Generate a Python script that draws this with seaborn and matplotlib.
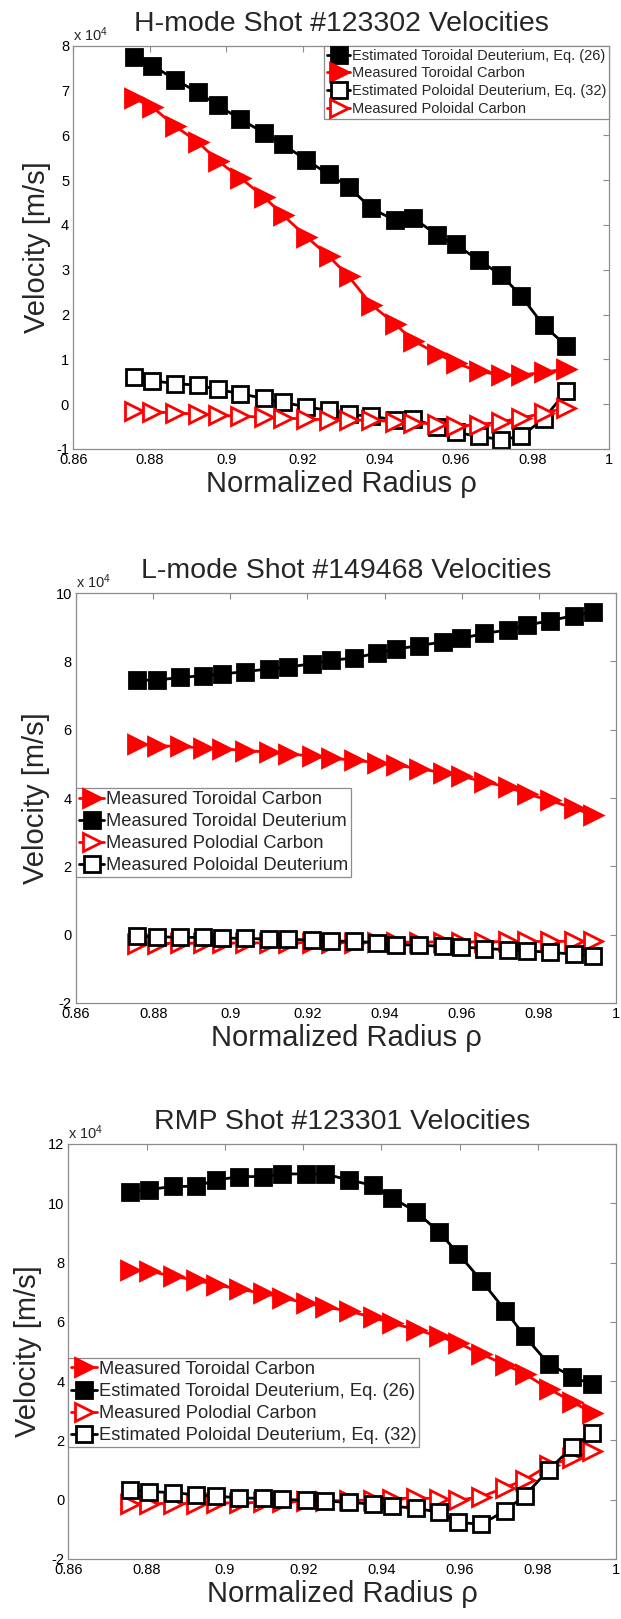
import matplotlib
matplotlib.use("Agg")
import matplotlib.pyplot as plt
import seaborn as sns

sns.set_style("white")
plt.rcParams["font.family"] = ["Liberation Sans", "DejaVu Sans"]
plt.rcParams["mathtext.fontset"] = "custom"
plt.rcParams["mathtext.rm"] = "Liberation Sans"
plt.rcParams["mathtext.it"] = "Liberation Sans:italic"

# ---------------- data (velocities in units of 1e4 m/s) ----------------
x_ticks = [0.86, 0.88, 0.90, 0.92, 0.94, 0.96, 0.98, 1.00]
x_ticklabels = ["0.86", "0.88", "0.9", "0.92", "0.94", "0.96", "0.98", "1"]

# Panel 1: H-mode shot #123302
h_rho = [0.8758, 0.8807, 0.8867, 0.8926, 0.8978, 0.9037, 0.9098, 0.9148, 0.9209, 0.9268, 0.9320,
         0.9379, 0.9440, 0.9488, 0.9550, 0.9599, 0.9660, 0.9719, 0.9770, 0.9829, 0.9889]
h_tor_D = [7.75, 7.56, 7.24, 6.96, 6.67, 6.36, 6.06, 5.80, 5.45, 5.13, 4.85,
           4.37, 4.11, 4.16, 3.78, 3.57, 3.21, 2.88, 2.42, 1.76, 1.30]
h_tor_C = [6.83, 6.63, 6.20, 5.85, 5.43, 5.05, 4.63, 4.22, 3.74, 3.30, 2.85,
           2.22, 1.80, 1.42, 1.13, 0.92, 0.73, 0.65, 0.65, 0.71, 0.79]
h_pol_D = [0.60, 0.52, 0.46, 0.42, 0.33, 0.23, 0.13, 0.04, -0.06, -0.14, -0.23,
           -0.27, -0.35, -0.33, -0.50, -0.63, -0.72, -0.79, -0.72, -0.33, 0.29]
h_pol_C = [-0.16, -0.17, -0.20, -0.22, -0.25, -0.27, -0.29, -0.31, -0.33, -0.35, -0.35,
           -0.36, -0.39, -0.41, -0.44, -0.49, -0.46, -0.39, -0.31, -0.20, -0.08]
h_yticks = [-1, 0, 1, 2, 3, 4, 5, 6, 7, 8]

# Panel 2: L-mode shot #149468
l_rho = [0.8759, 0.8809, 0.8870, 0.8930, 0.8979, 0.9039, 0.9100, 0.9149, 0.9211, 0.9260, 0.9321,
         0.9380, 0.9430, 0.9489, 0.9551, 0.9599, 0.9659, 0.9720, 0.9768, 0.9829, 0.9890, 0.9941]
l_tor_C = [5.58, 5.53, 5.51, 5.46, 5.44, 5.39, 5.34, 5.29, 5.23, 5.16, 5.11,
           5.03, 4.96, 4.86, 4.74, 4.64, 4.47, 4.32, 4.12, 3.93, 3.70, 3.50]
l_tor_D = [7.45, 7.45, 7.53, 7.58, 7.63, 7.70, 7.78, 7.83, 7.93, 8.03, 8.10,
           8.24, 8.36, 8.46, 8.57, 8.67, 8.82, 8.92, 9.06, 9.19, 9.34, 9.45]
l_pol_C = [-0.26, -0.26, -0.25, -0.25, -0.25, -0.24, -0.24, -0.24, -0.23, -0.23, -0.23,
           -0.22, -0.22, -0.22, -0.21, -0.21, -0.21, -0.20, -0.20, -0.20, -0.19, -0.19]
l_pol_D = [-0.05, -0.06, -0.08, -0.08, -0.10, -0.11, -0.13, -0.13, -0.16, -0.18, -0.20,
           -0.23, -0.29, -0.31, -0.34, -0.36, -0.41, -0.44, -0.47, -0.52, -0.57, -0.62]
l_yticks = [-2, 0, 2, 4, 6, 8, 10]

# Panel 3: RMP shot #123301
r_rho = [0.8758, 0.8806, 0.8867, 0.8926, 0.8977, 0.9037, 0.9098, 0.9146, 0.9207, 0.9256, 0.9318,
         0.9378, 0.9428, 0.9488, 0.9547, 0.9597, 0.9656, 0.9717, 0.9767, 0.9828, 0.9888, 0.9938]
r_tor_C = [7.74, 7.71, 7.54, 7.40, 7.25, 7.10, 6.96, 6.82, 6.63, 6.50, 6.36,
           6.15, 5.95, 5.74, 5.51, 5.28, 4.91, 4.55, 4.24, 3.74, 3.31, 2.93]
r_tor_D = [10.38, 10.46, 10.57, 10.57, 10.78, 10.90, 10.90, 10.99, 10.99, 10.99, 10.78,
           10.61, 10.18, 9.72, 9.04, 8.29, 7.39, 6.38, 5.51, 4.58, 4.15, 3.89]
r_pol_C = [-0.13, -0.13, -0.13, -0.13, -0.11, -0.11, -0.09, -0.09, -0.05, -0.05, -0.02,
           -0.02, 0.03, 0.06, 0.03, -0.02, 0.10, 0.41, 0.67, 1.16, 1.40, 1.63]
r_pol_D = [0.33, 0.27, 0.24, 0.16, 0.12, 0.06, 0.04, 0.01, -0.02, -0.05, -0.09,
           -0.15, -0.23, -0.28, -0.43, -0.77, -0.83, -0.37, 0.14, 1.01, 1.77, 2.24]
r_yticks = [-2, 0, 2, 4, 6, 8, 10, 12]

# ---------------- styling ----------------
GREY = "#8c8c8c"
RED = "#ff0000"
BLACK = "#000000"
STY = {
    "tor_D": dict(color=BLACK, marker="s", ms=11, filled=True),
    "tor_C": dict(color=RED, marker=">", ms=12.5, filled=True),
    "pol_D": dict(color=BLACK, marker="s", ms=11, filled=False),
    "pol_C": dict(color=RED, marker=">", ms=12.5, filled=False),
}

fig = plt.figure(figsize=(6.21, 16.19), dpi=100)


def draw_panel(rect, title, rho, series, yticks, legend_kw):
    ax = fig.add_axes(rect)
    for key, label, vals in series:
        s = STY[key]
        sns.lineplot(x=rho, y=vals, ax=ax, color=s["color"], linewidth=2,
                     marker=s["marker"], markersize=s["ms"], markeredgewidth=2,
                     markeredgecolor=s["color"],
                     markerfacecolor=s["color"] if s["filled"] else "white",
                     label=label, sort=False, estimator=None)
    ax.set_xlim(0.86, 1.0)
    ax.set_ylim(yticks[0], yticks[-1])
    ax.set_xticks(x_ticks)
    ax.set_xticklabels(x_ticklabels)
    ax.set_yticks(yticks)
    ax.set_yticklabels([str(v) for v in yticks])
    ax.tick_params(direction="in", length=4.5, width=0.8, color=GREY,
                   top=True, right=True, labelsize=10.5, pad=3, labelcolor="black")
    for sp in ax.spines.values():
        sp.set_color(GREY)
        sp.set_linewidth(0.9)
    ax.set_title(title, fontsize=20.5, pad=11)
    ax.set_xlabel("Normalized Radius \u03c1", fontsize=21, labelpad=2)
    ax.set_ylabel("Velocity [m/s]", fontsize=21, labelpad=4)
    ax.text(0.0, 1.004, r"x 10$^{4}$", transform=ax.transAxes, ha="left", va="bottom",
            fontsize=10.5)
    leg = ax.legend(frameon=True, fancybox=False, framealpha=1, edgecolor=GREY,
                    numpoints=1, handletextpad=0.1, borderaxespad=0, **legend_kw)
    leg.get_frame().set_linewidth(0.9)
    return ax


draw_panel([0.118, 0.7227, 0.8626, 0.2490], "H-mode Shot #123302 Velocities", h_rho,
           [("tor_D", "Estimated Toroidal Deuterium, Eq. (26)", h_tor_D),
            ("tor_C", "Measured Toroidal Carbon", h_tor_C),
            ("pol_D", "Estimated Poloidal Deuterium, Eq. (32)", h_pol_D),
            ("pol_C", "Measured Poloidal Carbon", h_pol_C)],
           h_yticks,
           dict(loc="upper right", bbox_to_anchor=(1.0, 1.0), fontsize=10.5,
                labelspacing=0.25, borderpad=0.2, handlelength=1.6))

draw_panel([0.1224, 0.3805, 0.8696, 0.2532], "L-mode Shot #149468 Velocities", l_rho,
           [("tor_C", "Measured Toroidal Carbon", l_tor_C),
            ("tor_D", "Measured Toroidal Deuterium", l_tor_D),
            ("pol_C", "Measured Polodial Carbon", l_pol_C),
            ("pol_D", "Measured Poloidal Deuterium", l_pol_D)],
           l_yticks,
           dict(loc="upper left", bbox_to_anchor=(0.0, 0.524), fontsize=13.2,
                labelspacing=0.28, borderpad=0.15, handlelength=1.4))

draw_panel([0.1103, 0.0371, 0.8816, 0.2563], "RMP Shot #123301 Velocities", r_rho,
           [("tor_C", "Measured Toroidal Carbon", r_tor_C),
            ("tor_D", "Estimated Toroidal Deuterium, Eq. (26)", r_tor_D),
            ("pol_C", "Measured Polodial Carbon", r_pol_C),
            ("pol_D", "Estimated Poloidal Deuterium, Eq. (32)", r_pol_D)],
           r_yticks,
           dict(loc="upper left", bbox_to_anchor=(0.0, 0.484), fontsize=13.2,
                labelspacing=0.28, borderpad=0.15, handlelength=1.4))

fig.savefig("out.png", dpi=100)
